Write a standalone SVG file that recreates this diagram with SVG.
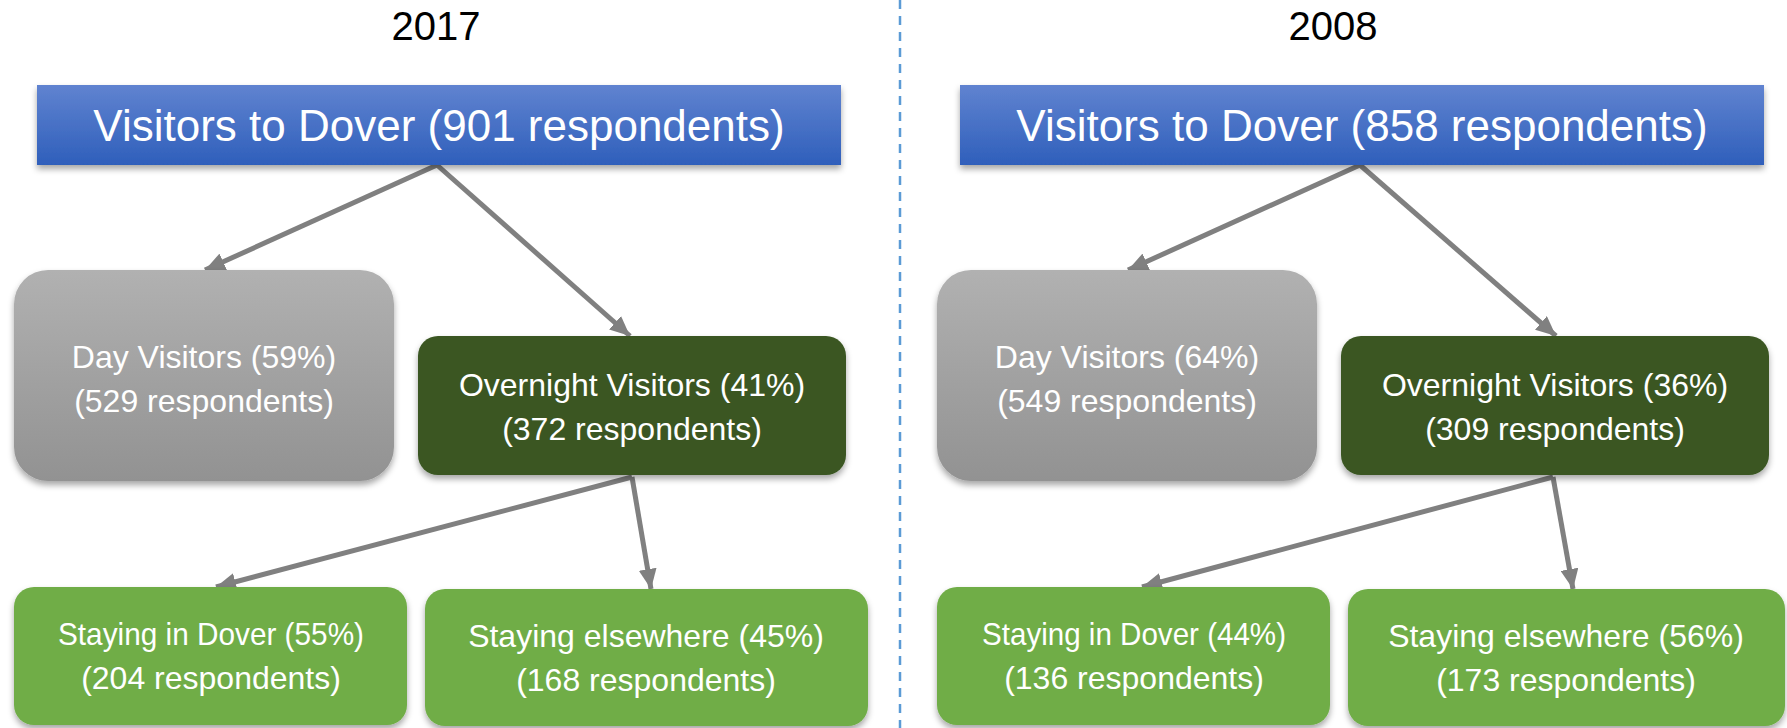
<svg xmlns="http://www.w3.org/2000/svg" width="1787" height="728" viewBox="0 0 1787 728">
<style>
.title{font-family:"Liberation Sans",Arial,sans-serif;font-size:40px;fill:#000;text-anchor:middle}
.big{font-family:"Liberation Sans",Arial,sans-serif;font-size:44px;fill:#fff;text-anchor:middle}
.lbl{font-family:"Liberation Sans",Arial,sans-serif;font-size:32px;fill:#fff;text-anchor:middle}
.conn{stroke:#808080;stroke-width:5;fill:none;marker-end:url(#ah)}
</style>
<defs>
<linearGradient id="gBlue" x1="0" y1="0" x2="0" y2="1"><stop offset="0" stop-color="#6083d0"/><stop offset="1" stop-color="#2f5fbb"/></linearGradient>
<linearGradient id="gGray" x1="0" y1="0" x2="0" y2="1"><stop offset="0" stop-color="#b1b1b1"/><stop offset="1" stop-color="#929292"/></linearGradient>
<filter id="sh" x="-10%" y="-10%" width="120%" height="130%"><feDropShadow dx="0" dy="4" stdDeviation="3" flood-color="#000" flood-opacity="0.35"/></filter>
<marker id="ah" markerUnits="userSpaceOnUse" markerWidth="22" markerHeight="18" refX="20" refY="9" orient="auto"><path d="M0,0 L20,9 L0,18 Z" fill="#808080"/></marker>
</defs>
<line x1="900" y1="0" x2="900" y2="728" stroke="#5b9bd5" stroke-width="2.5" stroke-dasharray="9,7"/>
<text class="title" x="436" y="40">2017</text>
<text class="title" x="1333" y="40">2008</text>
<g id="connectors">
<line class="conn" x1="437" y1="165" x2="205" y2="270"/>
<line class="conn" x1="437" y1="165" x2="630" y2="336"/>
<line class="conn" x1="632" y1="477" x2="216" y2="587"/>
<line class="conn" x1="632" y1="477" x2="651" y2="589"/>
<line class="conn" x1="1360" y1="165" x2="1128" y2="270"/>
<line class="conn" x1="1360" y1="165" x2="1556" y2="336"/>
<line class="conn" x1="1553" y1="477" x2="1142" y2="587"/>
<line class="conn" x1="1553" y1="477" x2="1573" y2="589"/>
</g>
<g id="root2017"><rect x="37" y="85" width="804" height="80" fill="url(#gBlue)" filter="url(#sh)"/><text class="big" x="439" y="141">Visitors to Dover (901 respondents)</text></g>
<g id="day2017"><rect x="14" y="270" width="380" height="211" rx="34" fill="url(#gGray)" filter="url(#sh)"/><text class="lbl" x="204" y="368">Day Visitors (59%)</text><text class="lbl" x="204" y="412">(529 respondents)</text></g>
<g id="over2017"><rect x="418" y="336" width="428" height="139" rx="20" fill="#3a5723" filter="url(#sh)"/><text class="lbl" x="632" y="396">Overnight Visitors (41%)</text><text class="lbl" x="632" y="440">(372 respondents)</text></g>
<g id="dover2017"><rect x="14" y="587" width="393" height="138" rx="20" fill="#70ad47" filter="url(#sh)"/><text class="lbl" x="211" y="645" textLength="306" lengthAdjust="spacingAndGlyphs">Staying in Dover (55%)</text><text class="lbl" x="211" y="689">(204 respondents)</text></g>
<g id="else2017"><rect x="425" y="589" width="443" height="137" rx="20" fill="#70ad47" filter="url(#sh)"/><text class="lbl" x="646" y="647">Staying elsewhere (45%)</text><text class="lbl" x="646" y="691">(168 respondents)</text></g>
<g id="root2008"><rect x="960" y="85" width="804" height="80" fill="url(#gBlue)" filter="url(#sh)"/><text class="big" x="1362" y="141">Visitors to Dover (858 respondents)</text></g>
<g id="day2008"><rect x="937" y="270" width="380" height="211" rx="34" fill="url(#gGray)" filter="url(#sh)"/><text class="lbl" x="1127" y="368">Day Visitors (64%)</text><text class="lbl" x="1127" y="412">(549 respondents)</text></g>
<g id="over2008"><rect x="1341" y="336" width="428" height="139" rx="20" fill="#3a5723" filter="url(#sh)"/><text class="lbl" x="1555" y="396">Overnight Visitors (36%)</text><text class="lbl" x="1555" y="440">(309 respondents)</text></g>
<g id="dover2008"><rect x="937" y="587" width="393" height="138" rx="20" fill="#70ad47" filter="url(#sh)"/><text class="lbl" x="1134" y="645" textLength="304" lengthAdjust="spacingAndGlyphs">Staying in Dover (44%)</text><text class="lbl" x="1134" y="689">(136 respondents)</text></g>
<g id="else2008"><rect x="1348" y="589" width="437" height="137" rx="20" fill="#70ad47" filter="url(#sh)"/><text class="lbl" x="1566" y="647">Staying elsewhere (56%)</text><text class="lbl" x="1566" y="691">(173 respondents)</text></g>
</svg>
